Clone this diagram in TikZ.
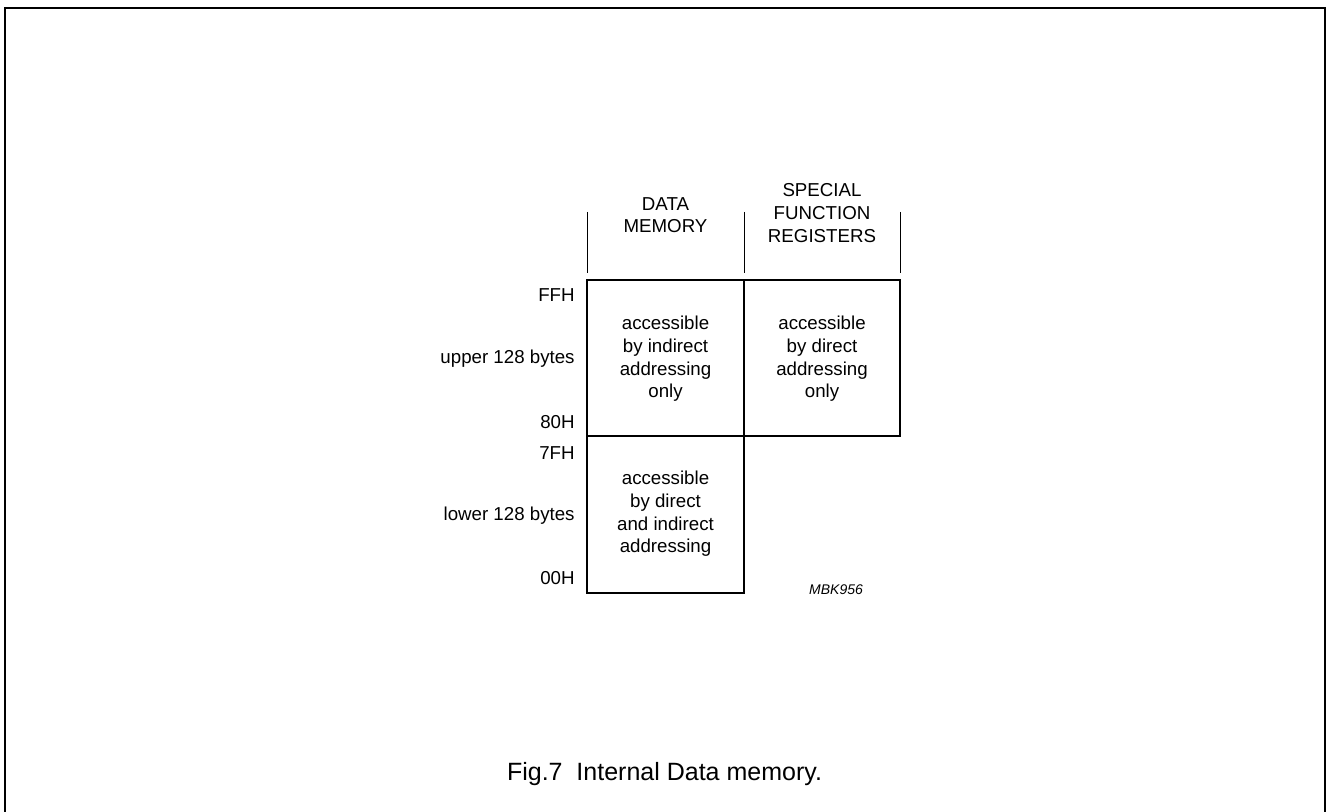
\documentclass[tikz,border=0pt]{standalone}
\usepackage{fontspec}
\setmainfont{Liberation Sans}
\begin{document}
\begin{tikzpicture}[x=0.5pt,y=-0.5pt,
  bodytxt/.style={inner sep=0pt,font=\fontsize{9.35}{11.35}\selectfont,align=center},
  lbl/.style={inner sep=0pt,font=\fontsize{9.35}{11.35}\selectfont,anchor=base east},
  boxline/.style={line width=1pt},
  hdrline/.style={line width=0.5pt},
  frameline/.style={line width=1pt}]
\useasboundingbox (0,0) rectangle (1326,812);
% frame
\coordinate (fbl) at (4.5,812);
\coordinate (ftl) at (4.5,8);
\coordinate (ftr) at (1325,8);
\coordinate (fbr) at (1325,812);
\draw[frameline] (fbl) -- (ftl) -- (ftr) -- (fbr);
% grid coordinates
\coordinate (a1) at (587,280);
\coordinate (a2) at (744,280);
\coordinate (a3) at (900,280);
\coordinate (b1) at (587,436);
\coordinate (b2) at (744,436);
\coordinate (b3) at (900,436);
\coordinate (c1) at (587,593);
\coordinate (c2) at (744,593);
% boxes
\draw[boxline] (a1) -- (a3) -- (b3) -- (b1) -- cycle;
\draw[boxline] (a2) -- (b2);
\draw[boxline] (b1) -- (c1) -- (c2) -- (b2);
% header lines
\coordinate (h1t) at (587,212); \coordinate (h1b) at (587,273);
\coordinate (h2t) at (744,212); \coordinate (h2b) at (744,273);
\coordinate (h3t) at (900,212); \coordinate (h3b) at (900,273);
\draw[hdrline] (h1t) -- (h1b);
\draw[hdrline] (h2t) -- (h2b);
\draw[hdrline] (h3t) -- (h3b);
% headers
\node[bodytxt] (hdm) at (665.5,215.3) {DATA\\MEMORY};
\node[bodytxt] (hsfr) at (822,213) {SPECIAL\\FUNCTION\\REGISTERS};
% box texts
\node[bodytxt] (t1) at (665.5,359) {accessible\\by indirect\\addressing\\only};
\node[bodytxt] (t2) at (822,359) {accessible\\by direct\\addressing\\only};
\node[bodytxt] (t3) at (665.5,514) {accessible\\by direct\\and indirect\\addressing};
% left labels
\node[lbl] (ffh) at (575,302) {FFH};
\node[lbl] (up) at (575,364) {upper 128 bytes};
\node[lbl] (h80) at (575,428) {80H};
\node[lbl] (h7f) at (575,459) {7FH};
\node[lbl] (low) at (575,520) {lower 128 bytes};
\node[lbl] (h00) at (575,584) {00H};
% code
\node[inner sep=0pt,anchor=base,font=\fontsize{7}{8}\selectfont\itshape] (mbk) at (836,594) {MBK956};
% caption
\node[inner sep=0pt,anchor=base,font=\fontsize{12.5}{15}\selectfont] (cap) at (664.5,780) {Fig.7\ \ Internal Data memory.};
\end{tikzpicture}
\end{document}
